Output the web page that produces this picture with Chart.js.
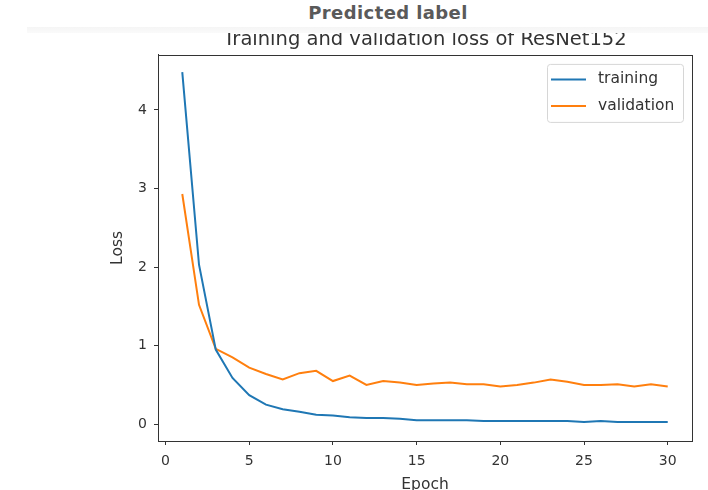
<!DOCTYPE html>
<html>
<head>
<meta charset="utf-8">
<script src="https://cdn.jsdelivr.net/npm/chart.js@4"></script>
<style>
  html, body { margin: 0; padding: 0; background: #fff; }
  #wrap { position: relative; width: 708px; height: 490px; overflow: hidden; }
  #grafica { position: absolute; left: 0; top: 0; }
  #cabecera {
    position: absolute; left: 0; top: 0; width: 708px; height: 27px;
    background: #fff; font-family: "DejaVu Sans", sans-serif; font-size: 18px;
    font-weight: 600; letter-spacing: 0.4px; color: #5a5a5a; line-height: 25px;
  }
  #cabecera span { position: absolute; left: 388px; top: 0; transform: translateX(-50%); white-space: nowrap; }
  #banda {
    position: absolute; left: 27px; top: 27px; width: 681px; height: 6px;
    background: linear-gradient(#f5f5f5, #fafafa);
  }
</style>
</head>
<body>
<div id="wrap">
  <canvas id="grafica" width="708" height="490"></canvas>
  <div id="banda"></div>
  <div id="cabecera"><span>Predicted label</span></div>
</div>
<script>
const epochs = [1, 2, 3, 4, 5, 6, 7, 8, 9, 10, 11, 12, 13, 14, 15,
                16, 17, 18, 19, 20, 21, 22, 23, 24, 25, 26, 27, 28, 29, 30];
const trainingLoss = [4.48, 2.03, 0.95, 0.59, 0.37, 0.25, 0.19, 0.16, 0.12, 0.11,
                      0.09, 0.08, 0.08, 0.07, 0.05, 0.05, 0.05, 0.05, 0.04, 0.04,
                      0.04, 0.04, 0.04, 0.04, 0.03, 0.04, 0.03, 0.03, 0.03, 0.03];
const validationLoss = [2.93, 1.52, 0.96, 0.85, 0.72, 0.64, 0.57, 0.65, 0.68, 0.55,
                        0.62, 0.50, 0.55, 0.53, 0.50, 0.52, 0.53, 0.51, 0.51, 0.48,
                        0.50, 0.53, 0.57, 0.54, 0.50, 0.50, 0.51, 0.48, 0.51, 0.48];
const xTicks = [0, 5, 10, 15, 20, 25, 30];
const yTicks = [0, 1, 2, 3, 4];

const azul = '#1f77b4';
const naranja = '#ff7f0e';
const ejes = '#333';

function puntos(valores) {
    return epochs.map((e, i) => ({ x: e, y: valores[i] }));
}

// borde completo del area y leyenda estilo matplotlib
const marcoYLeyenda = {
    id: 'marcoYLeyenda',
    afterDraw(chart) {
        const { ctx, chartArea } = chart;
        ctx.save();
        ctx.strokeStyle = ejes;
        ctx.lineWidth = 1;
        ctx.strokeRect(Math.round(chartArea.left) + 0.5, Math.round(chartArea.top) + 0.5,
            Math.round(chartArea.right - chartArea.left), Math.round(chartArea.bottom - chartArea.top));

        const w = 136, h = 58;
        const x0 = chartArea.right - 9 - w;
        const y0 = chartArea.top + 9;
        ctx.fillStyle = 'rgba(255,255,255,0.8)';
        ctx.strokeStyle = '#d6d6d6';
        ctx.beginPath();
        ctx.roundRect(x0 + 0.5, y0 + 0.5, w, h, 3);
        ctx.fill();
        ctx.stroke();

        ctx.font = '15.5px "DejaVu Sans"';
        ctx.textBaseline = 'middle';
        ctx.textAlign = 'left';
        chart.data.datasets.forEach((ds, i) => {
            const y = y0 + 15.5 + i * 26.5;
            ctx.strokeStyle = ds.borderColor;
            ctx.lineWidth = 2;
            ctx.beginPath();
            ctx.moveTo(x0 + 4, y);
            ctx.lineTo(x0 + 39, y);
            ctx.stroke();
            ctx.fillStyle = ejes;
            ctx.fillText(ds.label, x0 + 51, y);
        });
        ctx.restore();
    }
};

const ctx = document.getElementById('grafica').getContext('2d');
const grafica = new Chart(ctx, {
    type: 'line',
    data: {
        datasets: [{
            label: 'training',
            data: puntos(trainingLoss),
            borderColor: azul,
            borderWidth: 2,
            pointRadius: 0,
            tension: 0
        }, {
            label: 'validation',
            data: puntos(validationLoss),
            borderColor: naranja,
            borderWidth: 2,
            pointRadius: 0,
            tension: 0
        }]
    },
    options: {
        responsive: false,
        animation: false,
        layout: { padding: { left: 0, right: 16, top: 0, bottom: 0 } },
        plugins: {
            legend: { display: false },
            tooltip: { enabled: false },
            title: {
                display: true,
                fullSize: false,
                text: 'Training and validation loss of ResNet152',
                color: ejes,
                font: { family: 'DejaVu Sans', size: 19.5, weight: 'normal' },
                padding: { top: 28, bottom: 3.5 }
            }
        },
        scales: {
            x: {
                type: 'linear',
                min: -0.45,
                max: 31.45,
                afterFit: s => { s.height = 49; },
                afterBuildTicks: s => { s.ticks = xTicks.map(v => ({ value: v })); },
                grid: { drawOnChartArea: false, drawTicks: true, tickLength: 4, color: ejes },
                border: { display: true, color: ejes },
                ticks: { color: ejes, padding: 8, font: { family: 'DejaVu Sans', size: 14 } },
                title: {
                    display: true, text: 'Epoch', color: ejes,
                    font: { family: 'DejaVu Sans', size: 15.5 },
                    padding: { top: 0, bottom: -4 }
                }
            },
            y: {
                min: -0.213,
                max: 4.70,
                afterFit: s => { s.width = 158; },
                afterBuildTicks: s => { s.ticks = yTicks.map(v => ({ value: v })); },
                grid: { drawOnChartArea: false, drawTicks: true, tickLength: 4, color: ejes },
                border: { display: true, color: ejes },
                ticks: { color: ejes, padding: 7, font: { family: 'DejaVu Sans', size: 14 } },
                title: {
                    display: true, text: 'Loss', color: ejes,
                    font: { family: 'DejaVu Sans', size: 15.5 },
                    padding: { top: 109, bottom: 0 }
                }
            }
        }
    },
    plugins: [marcoYLeyenda]
});
</script>
</body>
</html>
